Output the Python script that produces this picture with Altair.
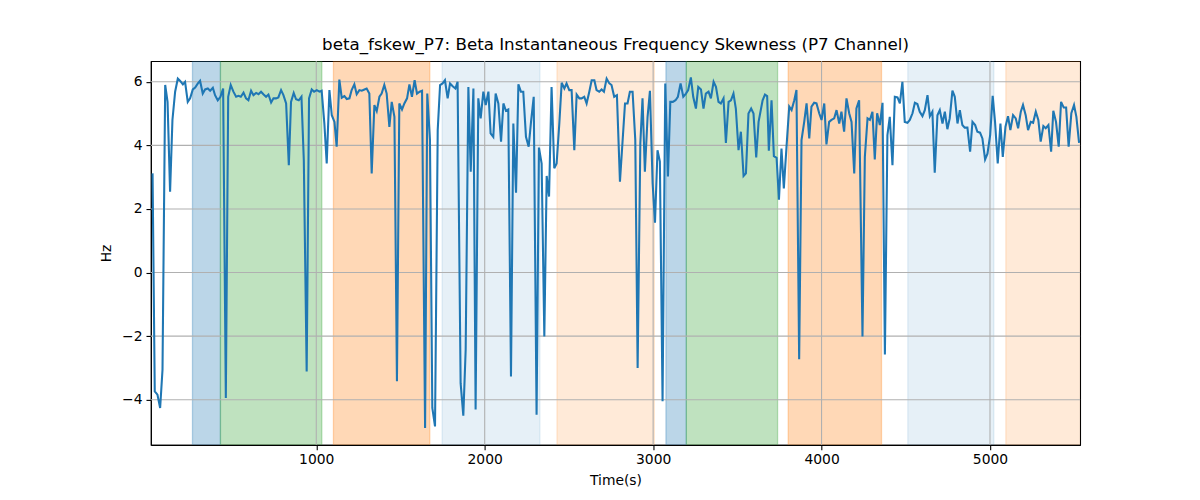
import altair as alt
import pandas as pd

# ---------------- data ----------------
t1 = [28,41,57,73,87,103,117,132,146,162,178,192,208,221,237,251,267,281,297,310,326,340,356,370,386,399,415,431,447,463,477,492,508,524,538,552,568,583,597,613,627,643,657,672,686,702,716,732,746,761,775,791,805,821,837,850,866,880,896,912,926,943,957,973,987,1003,1019,1032,1048,1062,1078,1092,1108,1121,1137,1151,1167,1181,1197,1210,1226,1240,1256,1270,1286,1299,1315,1329,1345,1359,1375,1388,1404,1418,1434,1448,1464,1479,1493,1509,1523,1539,1553,1568,1584,1598,1614,1628,1646,1659,1675,1689,1705,1721,1735,1750,1764,1780,1794,1810,1826,1839]
v1 = [3.12,-3.74,-3.84,-4.26,-3.06,5.90,5.37,2.54,4.80,5.69,6.10,6.03,5.92,6.00,5.37,5.48,5.76,5.82,5.95,6.03,5.63,5.76,5.79,5.72,5.81,5.58,5.42,5.53,5.79,-3.95,5.53,5.90,5.69,5.53,5.56,5.53,5.66,5.48,5.42,5.72,5.58,5.65,5.61,5.69,5.61,5.53,5.60,5.35,5.48,5.48,5.51,5.74,5.58,5.32,3.38,5.37,5.65,5.45,5.42,5.53,3.54,-3.11,5.48,5.76,5.69,5.74,5.69,5.72,4.69,3.43,5.74,4.95,4.74,3.96,6.07,5.50,5.55,5.46,5.48,5.74,5.92,5.61,5.74,5.72,5.76,5.79,5.63,3.12,5.27,5.08,5.53,5.63,5.90,5.63,4.58,5.37,4.90,-3.42,5.32,5.13,5.32,5.48,5.92,5.53,6.05,5.63,5.69,5.72,-4.89,5.63,4.17,-4.26,-4.84,4.48,5.90,5.95,6.05,5.48,5.95,5.86,5.79,6.00]

t2 = [1857,1873,1887,1903,1917,1933,1946,1962,1976,1992,2006,2022,2035,2051,2065,2081,2097,2111,2126,2140,2156,2170,2186,2200,2215,2229,2245,2261,2275,2291,2308,2322,2338,2354,2368,2382,2397,2413,2427,2443,2457,2473,2486,2502,2516,2532,2546,2562,2575,2591,2605,2621,2635,2651,2664,2680,2694,2708,2724,2740,2753,2769,2785,2803,2819,2833,2848,2862,2878,2894,2908,2924,2937,2951,2967,2981,2997,3011,3026,3040,3056,3072,3088,3102,3117,3133,3147,3163,3179,3195,3208,3224,3238,3254,3268,3284,3299,3313,3329,3343,3359,3373,3388,3402,3418,3432,3448,3462,3477,3491,3507,3521,3537,3551,3566,3582,3596,3612,3626]
v2 = [-3.48,-4.50,-2.43,5.84,3.17,5.79,-4.31,5.48,4.85,5.69,5.27,5.69,4.38,4.27,5.63,5.32,4.12,5.32,5.09,5.13,-3.27,4.69,2.51,5.92,5.69,5.69,4.27,3.96,4.74,5.53,-4.47,3.93,3.43,-2.01,3.04,2.39,5.84,3.28,3.43,4.69,5.97,5.79,5.95,5.74,5.74,3.85,5.60,5.48,5.48,5.53,5.32,5.69,6.05,6.05,5.74,5.69,5.76,5.69,6.10,5.95,5.90,5.53,5.58,2.86,4.17,5.32,5.32,5.69,5.69,4.17,-3.00,4.06,5.48,3.17,4.90,5.72,2.81,1.57,3.85,3.49,-4.05,5.95,3.02,5.37,5.37,5.42,5.53,5.95,5.53,5.63,5.74,6.14,5.53,5.16,5.84,5.76,5.16,5.63,5.69,5.48,6.00,5.84,5.37,5.32,5.48,4.08,5.37,5.42,5.63,5.16,3.85,4.43,3.04,3.12,5.00,5.16,5.00,3.62,4.74]

t3 = [3650,3664,3677,3687,3703,3717,3733,3747,3762,3776,3792,3808,3822,3838,3851,3867,3881,3897,3911,3927,3940,3956,3970,3986,4000,4016,4029,4045,4059,4075,4089,4105,4118,4134,4148,4164,4178,4194,4207,4223,4243,4257,4273,4287,4302,4316,4330,4346,4362,4376,4391,4405,4421,4435,4451,4465,4480,4494,4510,4524,4540,4554,4569,4583,4599,4613,4629,4643,4658,4672,4688,4702,4718,4732,4747,4761,4777,4791,4807,4821,4836,4850,4866,4882,4896,4912,4925,4941,4955,4971,4985,5001,5016,5030,5046,5062,5076,5092,5107,5121,5137,5153,5167,5183,5196,5212,5226,5242,5256,5272,5287,5301,5317,5331,5347,5363,5376,5392,5408,5422,5438,5452,5467,5483,5499,5513,5529]
v3 = [5.42,5.60,5.55,3.83,5.42,3.66,3.61,2.29,3.90,2.65,3.96,5.22,5.11,5.42,5.74,-2.73,4.17,4.74,5.32,4.22,5.22,5.34,5.32,5.01,4.80,5.32,4.03,4.74,4.80,4.85,5.11,4.69,5.06,4.43,5.48,5.01,4.74,3.12,5.16,5.42,-2.01,3.64,4.85,4.80,5.06,3.56,5.01,4.64,5.34,-2.58,4.32,4.90,3.38,5.53,5.51,5.32,6.00,4.74,4.71,4.80,5.01,5.34,5.30,5.06,4.92,5.11,5.58,4.92,5.06,3.14,4.95,5.11,4.69,5.06,4.51,4.85,5.72,5.53,4.69,5.11,4.64,4.56,4.56,3.80,4.74,4.64,4.43,4.40,4.22,3.56,3.74,4.32,5.56,4.74,3.43,4.69,3.64,4.59,4.92,4.48,4.95,4.85,4.54,5.06,5.27,4.95,4.48,4.74,4.71,5.06,4.80,4.12,4.61,4.54,4.64,3.80,5.09,4.74,3.96,5.37,5.19,5.19,3.96,5.01,5.27,4.90,4.08]

region_start = [265, 431, 1102, 1747, 2429, 3076, 3197, 3802, 4512, 5094]
region_end = [431, 1033, 1674, 2328, 3007, 3197, 3739, 4356, 5023, 5600]
region_color = ["#1f77b4", "#2ca02c", "#ff7f0e", "#1f77b4", "#ff7f0e",
                "#1f77b4", "#2ca02c", "#ff7f0e", "#1f77b4", "#ff7f0e"]
region_alpha = [0.3, 0.3, 0.3, 0.11, 0.16, 0.3, 0.3, 0.3, 0.11, 0.16]

x_ticks = [1000, 2000, 3000, 4000, 5000]
y_ticks = [-4, -2, 0, 2, 4, 6]
x_domain = [18, 5535]
y_domain = [-5.42, 6.65]

title = "beta_fskew_P7: Beta Instantaneous Frequency Skewness (P7 Channel)"

# ---------------- frames ----------------
line_df = pd.DataFrame({"t": t1 + t2 + t3, "v": v1 + v2 + v3})
reg_df = pd.DataFrame({"s": region_start, "e": region_end,
                       "c": region_color, "a": region_alpha})
xg = pd.DataFrame({"t": x_ticks})
yg = pd.DataFrame({"v": y_ticks})

W, H = 930, 384
FONT = "DejaVu Sans"

xscale = alt.Scale(domain=x_domain, nice=False, zero=False)
yscale = alt.Scale(domain=y_domain, nice=False, zero=False)

xaxis = alt.Axis(values=x_ticks, grid=False, title="Time(s)", format="d",
                 labelFontSize=13.9, titleFontSize=13.9, titlePadding=7,
                 tickSize=4.9, labelPadding=3, labelFlush=False)
yaxis = alt.Axis(values=y_ticks, grid=False, title="Hz", format="d",
                 labelFontSize=13.9, titleFontSize=13.9, titlePadding=8,
                 tickSize=4.9, labelPadding=4)

regions = alt.Chart(reg_df).mark_rect(clip=True, strokeWidth=1.3).encode(
    x=alt.X("s:Q", scale=xscale, axis=xaxis),
    x2="e:Q",
    y=alt.value(0),
    y2=alt.value(H),
    fill=alt.Color("c:N", scale=None, legend=None),
    stroke=alt.Color("c:N", scale=None, legend=None),
    fillOpacity=alt.Opacity("a:Q", scale=None, legend=None),
    strokeOpacity=alt.Opacity("a:Q", scale=None, legend=None),
)

xgrid = alt.Chart(xg).mark_rule(color="#b0b0b0", strokeWidth=1.1).encode(
    x=alt.X("t:Q", scale=xscale, axis=xaxis),
    y=alt.value(0), y2=alt.value(H),
)
ygrid = alt.Chart(yg).mark_rule(color="#b0b0b0", strokeWidth=1.1).encode(
    y=alt.Y("v:Q", scale=yscale, axis=yaxis),
    x=alt.value(0), x2=alt.value(W),
)

line = alt.Chart(line_df).mark_line(color="#1f77b4", strokeWidth=2.08, clip=True).encode(
    x=alt.X("t:Q", scale=xscale, axis=xaxis),
    y=alt.Y("v:Q", scale=yscale, axis=yaxis),
)

chart = alt.layer(regions, xgrid, ygrid, line).properties(
    width=W, height=H,
    autosize=alt.AutoSizeParams(type="none"),
    padding={"left": 143, "top": 53, "right": 112, "bottom": 55},
    title=alt.TitleParams(title, fontSize=16.7, font=FONT, fontWeight="normal",
                          color="black", offset=-6, baseline="alphabetic"),
).configure_axis(
    labelFont=FONT, titleFont=FONT, labelColor="black", titleColor="black",
    domainColor="black", domainWidth=1.1, tickColor="black", tickWidth=1.1,
    titleFontWeight="normal",
).configure_view(stroke="black", strokeWidth=1.1)

chart.save("out.html", embed_options={"renderer": "svg", "actions": False})
